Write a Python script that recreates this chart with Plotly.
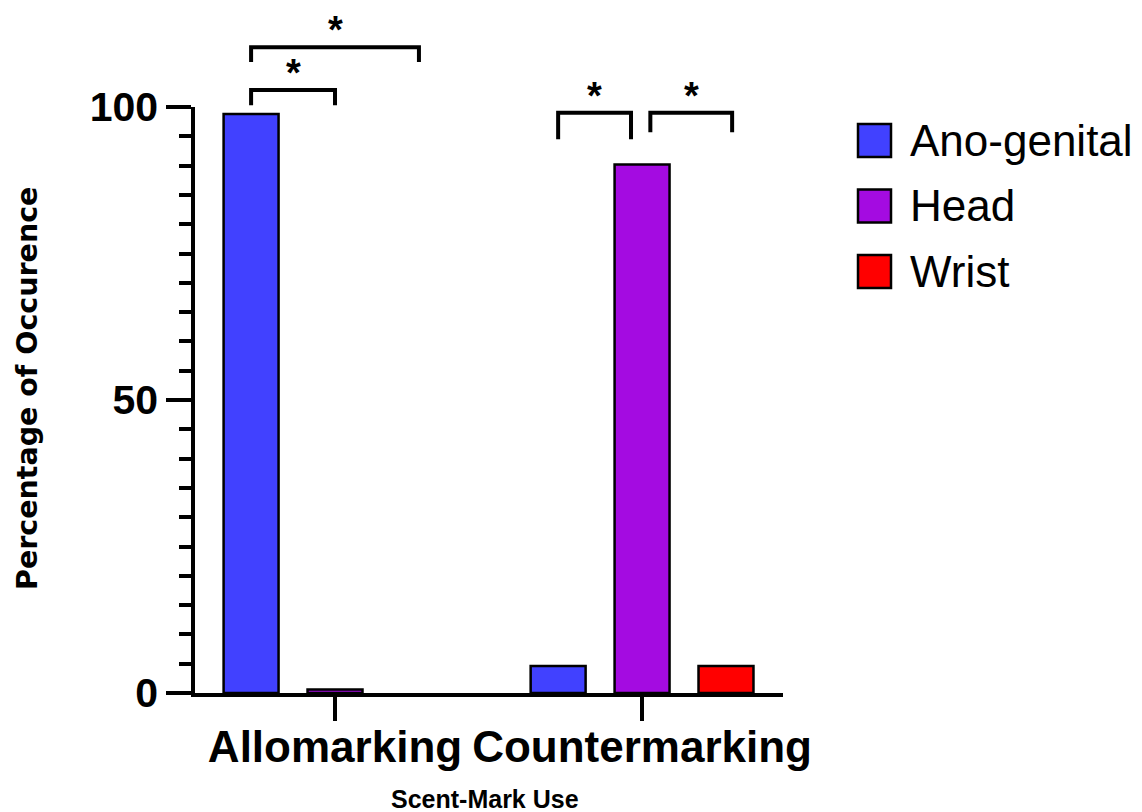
import plotly.graph_objects as go

# ---- data -------------------------------------------------------------
categories = ["Allomarking", "Countermarking"]
series_names = ["Ano-genital", "Head", "Wrist"]
ano_genital = [98.8, 4.6]
head = [0.6, 90.2]
wrist = [0.0, 4.6]
series_colors = ["#4141FF", "#A40BE1", "#FF0000"]

# significance brackets: (category index, series a, series b, bar level, left drop, right drop)
brackets = [
    (0, 0, 1, 102.9, 100.3, 100.3),
    (0, 0, 2, 110.2, 107.7, 107.7),
    (1, 0, 1, 99.0, 94.5, 94.5),
    (1, 1, 2, 99.0, 95.7, 95.7),
]
bracket_label = "*"

y_ticks_major = [0, 50, 100]

# ---- figure geometry --------------------------------------------------
W, H = 1142, 812
M_L, M_R, M_T, M_B = 195, 359, 107, 119
PLOT_W = W - M_L - M_R
PLOT_H = H - M_T - M_B
X_RANGE = [-0.456, 1.459]
Y_RANGE = [0, 100]
BARGAP = 0.18
BARGROUPGAP = 0.345

FONT = "Liberation Sans, Arial, sans-serif"


def px_x(p):
    return (p - M_L) / PLOT_W


def px_y(p):
    return (M_T + PLOT_H - p) / PLOT_H


def y_paper(v):
    return (v - Y_RANGE[0]) / (Y_RANGE[1] - Y_RANGE[0])


slot = (1 - BARGAP) / len(series_names)


def bar_center(cat, s):
    return cat + (s - (len(series_names) - 1) / 2) * slot


fig = go.Figure()
for name, vals, col in zip(series_names, [ano_genital, head, wrist], series_colors):
    # empty bars get no outline
    outline = [2.5 if v > 0 else 0 for v in vals]
    fig.add_trace(go.Bar(
        x=categories, y=vals, name=name, showlegend=False,
        marker=dict(color=col, line=dict(color="black", width=outline)),
    ))

shapes = []
annotations = []

# brackets with asterisks
for cat, a, b, level, drop_l, drop_r in brackets:
    xa = bar_center(cat, a)
    xb = bar_center(cat, b)
    # brackets meeting at the Head bar on the right group sit just apart
    if cat == 1 and b == 1:
        xb -= 0.036
    if cat == 1 and a == 1:
        xa += 0.027
        xb += 0.02
    path = (f"M{xa},{y_paper(drop_l)} L{xa},{y_paper(level)} "
            f"L{xb},{y_paper(level)} L{xb},{y_paper(drop_r)}")
    shapes.append(dict(type="path", path=path, xref="x", yref="paper",
                       line=dict(color="black", width=4),
                       fillcolor="rgba(0,0,0,0)", layer="above"))
    annotations.append(dict(x=(xa + xb) / 2, y=y_paper(level), xref="x", yref="paper",
                            text=bracket_label, showarrow=False, yanchor="bottom",
                            yshift=-6,
                            font=dict(family=FONT, size=38, color="black", weight="bold")))

# legend drawn as boxes + labels
leg_top = 124
leg_step = 65.5
box = 33
for i, (name, col) in enumerate(zip(series_names, series_colors)):
    cy = leg_top + box / 2 + i * leg_step
    shapes.append(dict(type="rect", xref="paper", yref="paper",
                       x0=px_x(858), x1=px_x(858 + box),
                       y0=px_y(cy - box / 2), y1=px_y(cy + box / 2),
                       fillcolor=col, line=dict(color="black", width=2.5)))
    annotations.append(dict(x=px_x(908), y=px_y(cy), xref="paper", yref="paper",
                            text=name, showarrow=False, xanchor="left", yanchor="middle",
                            font=dict(family=FONT, size=44, color="black")))

# axis titles
annotations.append(dict(x=px_x(27), y=px_y(389), xref="paper", yref="paper",
                        text="Percentage of Occurence", textangle=-90, showarrow=False,
                        xanchor="center", yanchor="middle",
                        font=dict(family="DejaVu Sans, sans-serif", size=28.5,
                                  color="black", weight="bold")))
annotations.append(dict(x=px_x(485), y=px_y(799), xref="paper", yref="paper",
                        text="Scent-Mark Use", showarrow=False,
                        xanchor="center", yanchor="middle",
                        font=dict(family=FONT, size=25, color="black", weight="bold")))

fig.update_layout(
    width=W, height=H,
    margin=dict(l=M_L, r=M_R, t=M_T, b=M_B, autoexpand=False),
    paper_bgcolor="white", plot_bgcolor="white",
    barmode="group", bargap=BARGAP, bargroupgap=BARGROUPGAP,
    shapes=shapes, annotations=annotations,
    showlegend=False,
)
fig.update_xaxes(
    type="category", range=X_RANGE, showgrid=False, zeroline=False,
    showline=True, linecolor="black", linewidth=3.5,
    ticks="outside", ticklen=24, tickwidth=3.5, tickcolor="black",
    ticklabelstandoff=-12,
    tickfont=dict(family=FONT, size=44, color="black", weight="bold"),
    automargin=False,
)
fig.update_yaxes(
    range=Y_RANGE, showgrid=False, zeroline=False,
    showline=True, linecolor="black", linewidth=3.5,
    tickmode="array", tickvals=y_ticks_major,
    ticks="outside", ticklen=25, tickwidth=3.5, tickcolor="black",
    tickfont=dict(family=FONT, size=41, color="black", weight="bold"),
    minor=dict(dtick=5, tick0=0, ticks="outside", ticklen=12, tickwidth=3.5,
               tickcolor="black", showgrid=False),
    automargin=False,
)

fig.write_html("out.html")
